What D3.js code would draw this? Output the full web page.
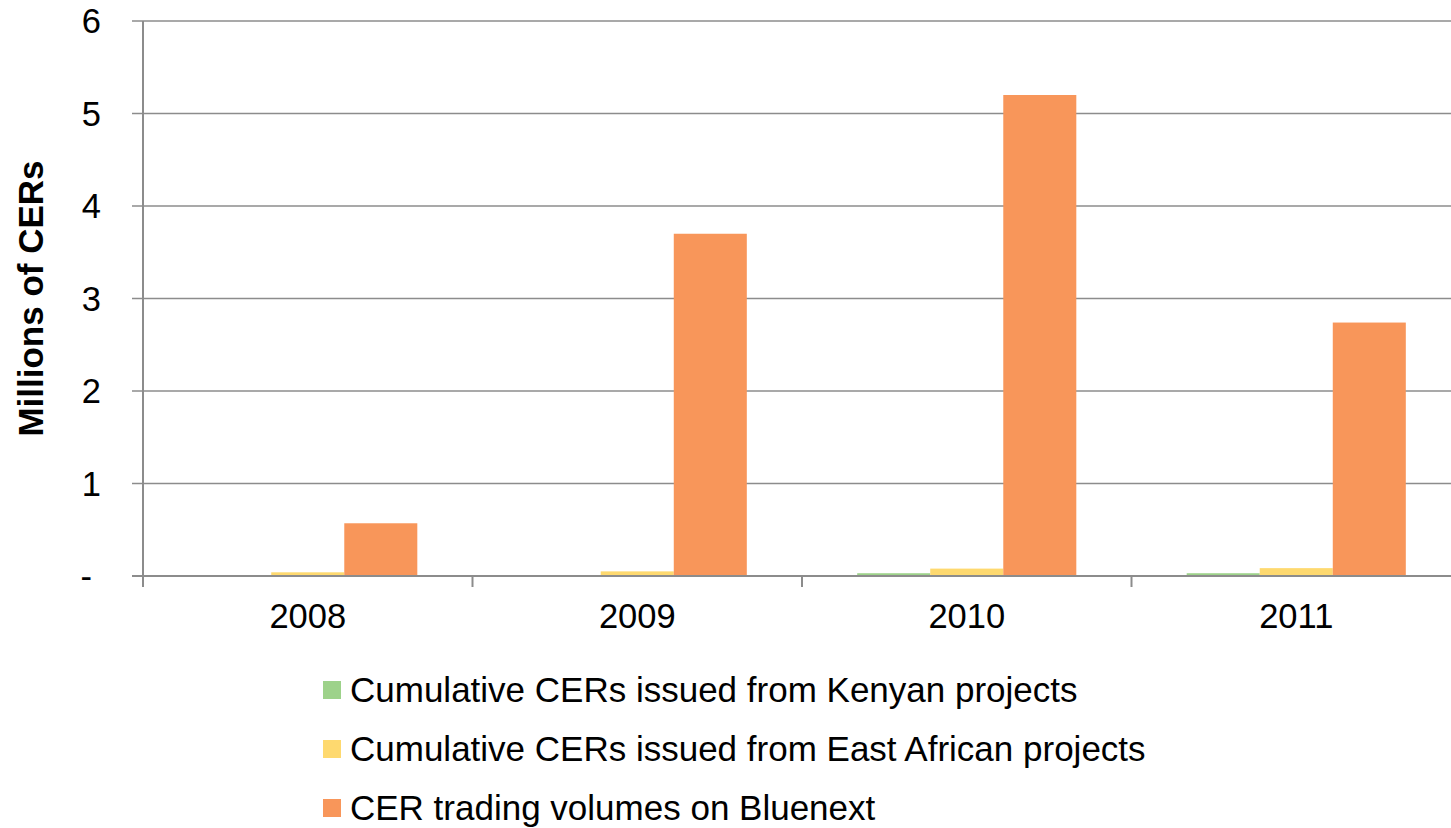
<!DOCTYPE html>
<html>
<head>
<meta charset="utf-8">
<script src="https://cdn.jsdelivr.net/npm/d3@7"></script>
<style>
  body { margin: 0; background: #fff; }
  svg { font-family: "Liberation Sans", Arial, sans-serif; }
</style>
</head>
<body>
<div id="chart"></div>
<script>
const years = ["2008", "2009", "2010", "2011"];
const seriesNames = [
    "Cumulative CERs issued from Kenyan projects",
    "Cumulative CERs issued from East African projects",
    "CER trading volumes on Bluenext"
];
const kenyan = [0.005, 0.006, 0.03, 0.03];
const eastAfrican = [0.04, 0.05, 0.08, 0.085];
const bluenext = [0.57, 3.70, 5.20, 2.74];
const yTicks = [0, 1, 2, 3, 4, 5, 6];
const colors = ["#9dd28a", "#fed96f", "#f8965a"];

const seriesValues = [kenyan, eastAfrican, bluenext];

const width = 1451, height = 828;
const plotLeft = 143, plotRight = 1461, plotTop = 21, plotBottom = 576;

const svg = d3.select("#chart").append("svg")
    .attr("width", width)
    .attr("height", height);

const x = d3.scaleBand().domain(years).range([plotLeft, plotRight]).paddingInner(0.335).paddingOuter(0.1675);
const xCat = d3.scaleBand().domain(years).range([plotLeft, plotRight]);
const xSub = d3.scaleBand().domain(d3.range(seriesNames.length)).range([0, x.bandwidth()]);
const y = d3.scaleLinear().domain([0, 6]).range([plotBottom, plotTop]);

// gridlines
svg.append("g")
    .selectAll("line")
    .data(yTicks.filter(d => d > 0))
    .join("line")
    .attr("x1", plotLeft - 11)
    .attr("x2", width)
    .attr("y1", d => y(d))
    .attr("y2", d => y(d))
    .attr("stroke", "#8c8c8c")
    .attr("stroke-width", 1.5);

// y tick labels
svg.append("g")
    .selectAll("text")
    .data(yTicks)
    .join("text")
    .attr("x", d => d === 0 ? 92 : 101)
    .attr("y", d => y(d))
    .attr("dy", "0.35em")
    .attr("text-anchor", "end")
    .attr("font-size", 34.5)
    .text(d => d === 0 ? "-" : d);

// bars
seriesValues.forEach((vals, i) => {
    svg.append("g")
        .selectAll("rect")
        .data(years)
        .join("rect")
        .attr("x", (d) => x(d) + xSub(i))
        .attr("width", xSub.bandwidth())
        .attr("y", (d, j) => y(vals[j]))
        .attr("height", (d, j) => y(0) - y(vals[j]))
        .attr("fill", colors[i]);
});

// y axis line
svg.append("line")
    .attr("x1", plotLeft).attr("x2", plotLeft)
    .attr("y1", plotTop).attr("y2", plotBottom + 11)
    .attr("stroke", "#8c8c8c").attr("stroke-width", 2);

// x axis line + category ticks
svg.append("line")
    .attr("x1", plotLeft - 11).attr("x2", width)
    .attr("y1", plotBottom).attr("y2", plotBottom)
    .attr("stroke", "#8c8c8c").attr("stroke-width", 2);

svg.append("g")
    .selectAll("line")
    .data(years)
    .join("line")
    .attr("x1", d => xCat(d))
    .attr("x2", d => xCat(d))
    .attr("y1", plotBottom)
    .attr("y2", plotBottom + 11)
    .attr("stroke", "#8c8c8c")
    .attr("stroke-width", 2);

// x labels
svg.append("g")
    .selectAll("text")
    .data(years)
    .join("text")
    .attr("x", d => xCat(d) + xCat.bandwidth() / 2)
    .attr("y", 616)
    .attr("dy", "0.35em")
    .attr("text-anchor", "middle")
    .attr("font-size", 34.5)
    .text(d => d);

// y title
svg.append("text")
    .attr("transform", `translate(43, ${(plotTop + plotBottom) / 2}) rotate(-90)`)
    .attr("text-anchor", "middle")
    .attr("font-size", 35)
    .attr("font-weight", "bold")
    .text("Millions of CERs");

// legend
const legend = svg.append("g")
    .selectAll("g")
    .data(seriesNames)
    .join("g")
    .attr("transform", (d, i) => `translate(323, ${690 + i * 59})`);

legend.append("rect")
    .attr("x", 0)
    .attr("y", -9)
    .attr("width", 18)
    .attr("height", 18)
    .attr("fill", (d, i) => colors[i]);

legend.append("text")
    .attr("x", 27)
    .attr("dy", "0.35em")
    .attr("font-size", 35)
    .text(d => d);
</script>
</body>
</html>
